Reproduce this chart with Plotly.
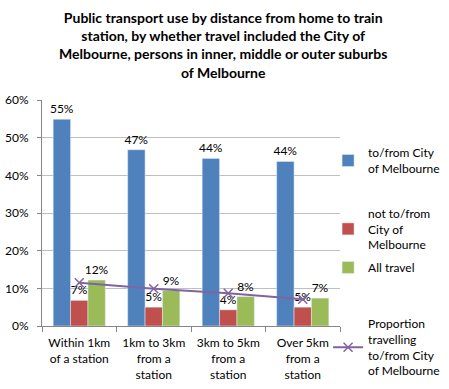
import plotly.graph_objects as go

categories = ["Within 1km<br>of a station", "1km to 3km<br>from a<br>station",
              "3km to 5km<br>from a<br>station", "Over 5km<br>from a<br>station"]
to_from_city = [54.9, 46.8, 44.5, 43.7]
not_to_from_city = [6.8, 5.0, 4.3, 5.0]
all_travel = [12.2, 9.4, 7.8, 7.4]
proportion_city = [11.5, 9.9, 8.7, 7.1]
y_ticks = [0, 10, 20, 30, 40, 50, 60]

FONT = "Lato"
TXT = "#000000"

def lbl(vals):
    return [f"{round(v):.0f}%" for v in vals]

fig = go.Figure()
fig.add_trace(go.Bar(x=categories, y=to_from_city, name="to/from City<br>of Melbourne",
                     marker_color="#4F81BD", text=lbl(to_from_city), textposition="outside",
                     cliponaxis=False, legend="legend"))
fig.add_trace(go.Bar(x=categories, y=not_to_from_city, name="not to/from<br>City of<br>Melbourne",
                     marker_color="#C0504D", text=lbl(not_to_from_city), textposition="outside",
                     cliponaxis=False, legend="legend2"))
fig.add_trace(go.Bar(x=categories, y=all_travel, name="All travel",
                     marker_color="#9BBB59", text=lbl(all_travel), textposition="outside",
                     cliponaxis=False, legend="legend3"))
fig.add_trace(go.Scatter(x=categories, y=proportion_city, mode="lines+markers",
                         name="Proportion<br>travelling<br>to/from City<br>of Melbourne",
                         line=dict(color="#8064A2", width=2),
                         marker=dict(symbol="x-thin", size=9, line=dict(color="#8064A2", width=1.5)),
                         legend="legend4"))
fig.update_traces(selector=dict(type="bar"), constraintext="none",
                  textfont=dict(size=12, color=TXT, family=FONT))

leg = dict(font=dict(size=12, family=FONT, color=TXT), xanchor="left", yanchor="top",
           bgcolor="rgba(0,0,0,0)", x=0.96, itemwidth=30)
fig.update_layout(
    width=449, height=389,
    margin=dict(l=42, r=109, t=100, b=63, autoexpand=False),
    paper_bgcolor="white", plot_bgcolor="white",
    font=dict(family=FONT, size=12, color=TXT),
    barmode="group", bargap=0.30, bargroupgap=0,
    showlegend=True,
    legend=dict(leg, y=0.83),
    legend2=dict(leg, y=0.562),
    legend3=dict(leg, y=0.323),
    legend4=dict(leg, y=0.073),
    xaxis=dict(showline=True, linecolor="#868686", ticks="outside", tickson="boundaries",
               tickcolor="#868686", ticklen=5, ticklabelstandoff=6, tickangle=0,
               automargin=False, tickfont=dict(size=12, color=TXT)),
    yaxis=dict(range=[0, 60], tickvals=y_ticks, ticktext=[f"{v}%" for v in y_ticks],
               showgrid=True, gridcolor="#BFBFBF", showline=True, linecolor="#868686",
               ticks="outside", tickcolor="#868686", ticklen=4, zeroline=False,
               automargin=False, ticklabelstandoff=6, tickfont=dict(size=12, color=TXT)),
    annotations=[dict(
        text="<b>Public transport use by distance from home to train<br>station, by whether travel included the City of<br>Melbourne, persons in inner, middle or outer suburbs<br>of Melbourne</b>",
        xref="paper", yref="paper", x=0.609, xanchor="center", y=1.41, yanchor="top",
        showarrow=False, align="center", font=dict(size=14, family=FONT, color=TXT))],
)
fig.write_html("out.html", config={"displayModeBar": False},
               post_script="document.body.style.margin='0';document.body.style.overflow='hidden';")
